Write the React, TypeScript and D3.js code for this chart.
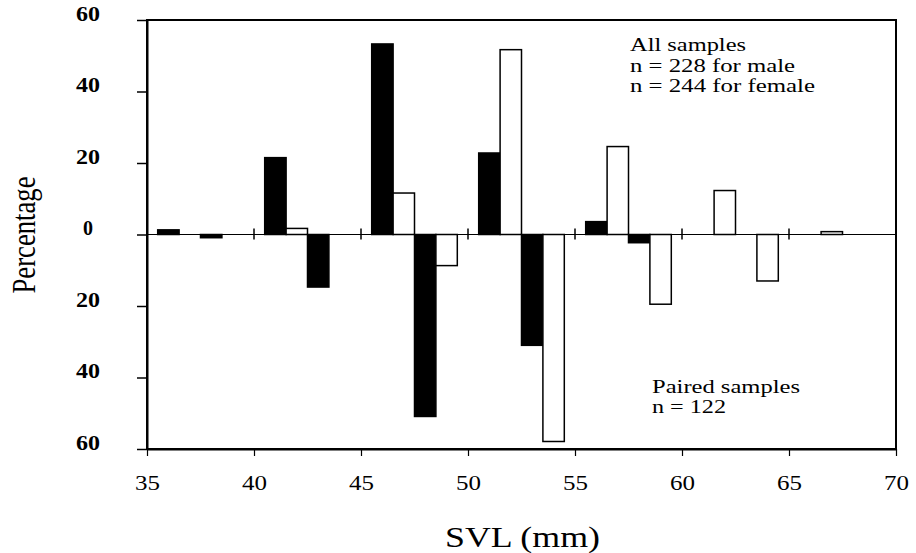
import * as d3 from "d3";
import React, { useRef, useEffect } from "react";

// SVL bins (mm), each bin holds 4 bars: all male, all female, paired male, paired female
const binStarts = [35, 40, 45, 50, 55, 60, 65];
const allMale = [1.3, 21.5, 53.3, 22.8, 3.6, 0, 0];
const allFemale = [0, 1.7, 11.6, 51.7, 24.6, 12.3, 0.8];
const pairedMale = [0.9, 14.7, 50.9, 31.0, 2.3, 0, 0];
const pairedFemale = [0, 0, 8.7, 57.9, 19.5, 13.0, 0];

const xTicks = [35, 40, 45, 50, 55, 60, 65, 70];
const yTicks = [60, 40, 20, 0, -20, -40, -60];
const zeroTicks = [40, 45, 50, 55, 60, 65];

const width = 916;
const height = 553;
const margin = { top: 20, right: 20, bottom: 104, left: 147 };
const font = "Liberation Serif";

const App = () => {
  const ref = useRef<SVGSVGElement>(null);

  useEffect(() => {
    const svg = d3.select(ref.current);
    svg.selectAll("*").remove();

    const x = d3
      .scaleLinear()
      .domain([35, 70])
      .range([margin.left, width - margin.right]);
    const y = d3
      .scaleLinear()
      .domain([-60, 60])
      .range([height - margin.bottom, margin.top]);

    // build bar table
    const bars: { pos: number; value: number; male: boolean }[] = [];
    binStarts.forEach((b, i) => {
      bars.push({ pos: b + 1, value: allMale[i], male: true });
      bars.push({ pos: b + 2, value: allFemale[i], male: false });
      bars.push({ pos: b + 3, value: -pairedMale[i], male: true });
      bars.push({ pos: b + 4, value: -pairedFemale[i], male: false });
    });

    svg
      .append("g")
      .selectAll("rect")
      .data(bars.filter((d) => d.value !== 0))
      .join("rect")
      .attr("x", (d) => x(d.pos - 0.5))
      .attr("width", (d) => x(d.pos + 0.5) - x(d.pos - 0.5))
      .attr("y", (d) => (d.value > 0 ? y(d.value) : y(0)))
      .attr("height", (d) => Math.abs(y(d.value) - y(0)))
      .attr("fill", (d) => (d.male ? "#000" : "#fff"))
      .attr("stroke", "#000")
      .attr("stroke-width", 1.5);

    // zero line with crossing ticks
    svg
      .append("line")
      .attr("x1", x(35))
      .attr("x2", x(70))
      .attr("y1", y(0))
      .attr("y2", y(0))
      .attr("stroke", "#000")
      .attr("stroke-width", 1.2);
    svg
      .append("g")
      .selectAll("line")
      .data(zeroTicks)
      .join("line")
      .attr("x1", (d) => x(d))
      .attr("x2", (d) => x(d))
      .attr("y1", y(0) - 6)
      .attr("y2", y(0) + 5)
      .attr("stroke", "#000")
      .attr("stroke-width", 1.5);

    // frame
    svg
      .append("rect")
      .attr("x", x(35))
      .attr("y", y(60))
      .attr("width", x(70) - x(35))
      .attr("height", y(-60) - y(60))
      .attr("fill", "none")
      .attr("stroke", "#000")
      .attr("stroke-width", 2);

    // bottom axis
    const xAxis = svg
      .append("g")
      .attr("transform", `translate(0,${y(-60)})`)
      .call(
        d3
          .axisBottom(x)
          .tickValues(xTicks)
          .tickSize(7)
          .tickSizeOuter(0)
          .tickPadding(20)
      );
    xAxis.select(".domain").attr("stroke-width", 2);
    xAxis.selectAll(".tick line").attr("stroke-width", 1.2);
    xAxis
      .selectAll(".tick text")
      .attr("font-family", font)
      .attr("font-size", 20)
      .attr("fill", "#000")
      .attr("textLength", 25)
      .attr("lengthAdjust", "spacingAndGlyphs");

    // left axis
    const yAxis = svg
      .append("g")
      .attr("transform", `translate(${x(35)},0)`)
      .call(
        d3
          .axisLeft(y)
          .tickValues(yTicks)
          .tickSize(10)
          .tickSizeOuter(0)
          .tickFormat((d) => String(Math.abs(+d)))
      );
    yAxis.select(".domain").attr("stroke-width", 2);
    yAxis.selectAll(".tick line").attr("stroke-width", 1.5);
    yAxis
      .selectAll(".tick text")
      .attr("x", -59)
      .attr("dy", "0.02em")
      .attr("text-anchor", "middle")
      .attr("font-family", font)
      .attr("font-size", 20)
      .attr("font-weight", "bold")
      .attr("fill", "#000");
    yAxis
      .selectAll(".tick text")
      .filter((d: any) => d !== 0)
      .attr("textLength", 24)
      .attr("lengthAdjust", "spacingAndGlyphs");

    // axis titles
    svg
      .append("text")
      .attr("transform", `translate(35,235) rotate(-90)`)
      .attr("text-anchor", "middle")
      .attr("font-family", font)
      .attr("font-size", 34)
      .attr("textLength", 117)
      .attr("lengthAdjust", "spacingAndGlyphs")
      .text("Percentage");

    svg
      .append("text")
      .attr("x", 445)
      .attr("y", 547)
      .attr("font-family", font)
      .attr("font-size", 29)
      .attr("textLength", 155)
      .attr("lengthAdjust", "spacingAndGlyphs")
      .text("SVL (mm)");

    // annotations
    const notes = [
      { t: "All samples", x: 630, y: 51, w: 116 },
      { t: "n = 228 for male", x: 630, y: 71.5, w: 165 },
      { t: "n = 244 for female", x: 630, y: 91.5, w: 185 },
      { t: "Paired samples", x: 652, y: 393, w: 148 },
      { t: "n = 122", x: 652, y: 413, w: 74 },
    ];
    svg
      .append("g")
      .selectAll("text")
      .data(notes)
      .join("text")
      .attr("x", (d) => d.x)
      .attr("y", (d) => d.y)
      .attr("font-family", font)
      .attr("font-size", 19)
      .attr("textLength", (d) => d.w)
      .attr("lengthAdjust", "spacingAndGlyphs")
      .text((d) => d.t);
  }, []);

  return (
    <svg
      ref={ref}
      width={width}
      height={height}
      style={{ position: "absolute", left: 0, top: 0, background: "#fff" }}
    ></svg>
  );
};

export default App;
